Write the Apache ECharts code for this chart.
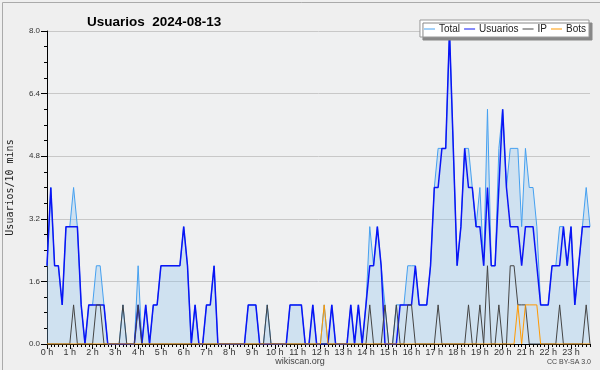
<!DOCTYPE html>
<html><head><meta charset="utf-8">
<script src="https://cdn.jsdelivr.net/npm/echarts@6/dist/echarts.min.js"></script>
<style>html,body{margin:0;padding:0;background:#efefef}#c{width:600px;height:370px}</style>
</head><body><div id="c"></div>
<script>
var hourLabels = ["0 h","1 h","2 h","3 h","4 h","5 h","6 h","7 h","8 h","9 h","10 h","11 h","12 h","13 h","14 h","15 h","16 h","17 h","18 h","19 h","20 h","21 h","22 h","23 h"];
var yTicks = [0, 1.6, 3.2, 4.8, 6.4, 8.0];
var total = [
2,4,2,2,1,3,3,4,3,1, 0,1,1,2,2,1,0,0,0,0, 1,0,0,0,2,0,1,0,1,1, 2,2,2,2,2,2,3,2,0,1,
0,0,1,1,2,0,0,0,0,0, 0,0,0,1,1,1,0,0,1,0, 0,0,0,0,1,1,1,1,0,0, 1,0,0,1,0,1,0,0,0,0,
1,0,1,0,1,3,2,3,2,1, 0,0,1,1,1,2,2,2,1,1, 1,2,4,5,5,5,8,5,2,3, 5,5,4,3,4,2,6,2,2,5,
6,4,5,5,5,3,5,4,4,3, 1,1,1,2,2,3,3,2,3,1, 2,3,4,3];
var usuarios = [
2,4,2,2,1,3,3,3,3,1, 0,1,1,1,1,1,0,0,0,0, 0,0,0,0,1,0,1,0,1,1, 2,2,2,2,2,2,3,2,0,1,
0,0,1,1,2,0,0,0,0,0, 0,0,0,1,1,1,0,0,0,0, 0,0,0,0,1,1,1,1,0,0, 1,0,0,0,0,1,0,0,0,0,
1,0,1,0,1,2,2,3,2,0, 0,0,0,1,1,1,1,2,1,1, 1,2,4,4,5,5,8,5,2,3, 5,4,4,3,3,2,4,2,2,4,
6,4,3,3,3,2,3,3,3,2, 1,1,1,2,2,2,3,2,3,1, 2,3,3,3];
var ip = [
0,0,0,0,0,0,0,1,0,0, 0,0,0,1,1,0,0,0,0,0, 1,0,0,0,1,0,0,0,0,0, 0,0,0,0,0,0,0,0,0,0,
0,0,0,0,0,0,0,0,0,0, 0,0,0,0,0,0,0,0,1,0, 0,0,0,0,0,0,0,0,0,0, 0,0,0,0,0,0,0,0,0,0,
0,0,0,0,0,1,0,0,0,1, 0,0,1,0,0,1,1,0,0,0, 0,0,0,1,0,0,0,0,0,0, 0,1,0,0,1,0,2,0,0,1,
0,0,2,2,1,1,1,0,0,0, 0,0,0,0,0,1,0,0,0,0, 0,0,1,0];
var bots = [
0,0,0,0,0,0,0,0,0,0, 0,0,0,0,0,0,0,0,0,0, 0,0,0,0,0,0,0,0,0,0, 0,0,0,0,0,0,0,0,0,0,
0,0,0,0,0,0,0,0,0,0, 0,0,0,0,0,0,0,0,0,0, 0,0,0,0,0,0,0,0,0,0, 0,0,0,1,0,0,0,0,0,0,
0,0,0,0,0,0,0,0,0,0, 0,0,0,0,0,0,0,0,0,0, 0,0,0,0,0,0,0,0,0,0, 0,0,0,0,0,0,0,0,0,0,
0,0,0,0,1,0,1,1,1,1, 0,0,0,0,0,0,0,0,0,0, 0,0,0,0];

var cats = total.map(function(_, i){ return String(i); });
var FONT = 'Liberation Sans';
var chart = echarts.init(document.getElementById('c'), null, {renderer:'canvas'});
chart.setOption({
  animation:false,
  backgroundColor:'#efefef',
  textStyle:{fontFamily:FONT},
  title:{text:'Usuarios  2024-08-13', left:82, top:10,
    textStyle:{fontSize:13.5, fontWeight:'bold', color:'#000', fontFamily:FONT}},
  legend:{right:11, top:20, itemWidth:11, itemHeight:1, itemGap:4, icon:'rect',
    padding:[4,3,3,4], backgroundColor:'#fff', borderColor:'#999', borderWidth:1,
    shadowColor:'#888', shadowOffsetX:3, shadowOffsetY:3, shadowBlur:0,
    textStyle:{fontSize:10, color:'#222', fontFamily:FONT, padding:[0,0,0,-1]},
    data:['Total','Usuarios','IP','Bots']},
  grid:{left:47, right:10, top:31, bottom:26, show:true, backgroundColor:'#eff0f1', borderWidth:0,
    containLabel:false, outerBoundsMode:'none'},
  xAxis:[{
    type:'category', data:cats, boundaryGap:false,
    axisLine:{lineStyle:{color:'#000', width:1}},
    axisTick:{show:true, interval:0, length:3, lineStyle:{color:'#000'}},
    axisLabel:{interval:5, fontSize:9, color:'#333', margin:4, fontFamily:FONT,
      formatter:function(v, i){ return i % 6 === 0 ? hourLabels[i/6] : ''; }},
    splitLine:{show:false}
  },{
    type:'category', data:cats, boundaryGap:false, position:'bottom',
    axisLine:{show:false},
    axisTick:{show:true, interval:5, length:5, lineStyle:{color:'#000'}},
    axisLabel:{show:false}, splitLine:{show:false}
  }],
  yAxis:{type:'value', min:yTicks[0], max:yTicks[yTicks.length-1], interval:1.6,
    name:'Usuarios/10 mins', nameLocation:'middle', nameGap:32, nameRotate:90,
    nameTextStyle:{fontFamily:'DejaVu Sans Mono', fontSize:10, color:'#222'},
    axisLine:{show:true, lineStyle:{color:'#000', width:1}},
    axisTick:{show:true, length:6, lineStyle:{color:'#000'}},
    minorTick:{show:true, splitNumber:4, length:3, lineStyle:{color:'#000'}},
    axisLabel:{fontSize:8, color:'#333', margin:7, fontFamily:FONT,
      formatter:function(v){ return v.toFixed(1); }},
    splitLine:{show:true, lineStyle:{color:'#c8c8c8', width:1}}
  },
  series:[
    {name:'Total', type:'line', data:total, showSymbol:false, symbol:'none',
      lineStyle:{color:'#45a0f0', width:1}, itemStyle:{color:'#45a0f0'},
      areaStyle:{color:'rgba(134,190,238,0.42)'}},
    {name:'Usuarios', type:'line', data:usuarios, showSymbol:false, symbol:'none',
      lineStyle:{color:'#0a14f5', width:1.5}, itemStyle:{color:'#0a14f5'}},
    {name:'IP', type:'line', data:ip, showSymbol:false, symbol:'none',
      lineStyle:{color:'#444', width:1}, itemStyle:{color:'#444'}},
    {name:'Bots', type:'line', data:bots, showSymbol:false, symbol:'none',
      lineStyle:{color:'#ff9900', width:1}, itemStyle:{color:'#ff9900'}}
  ],
  graphic:[
    {type:'rect', left:0, top:0, shape:{width:599, height:369}, style:{fill:null, stroke:'#aaa', lineWidth:1}, silent:true},
    {type:'text', left:'center', top:357, style:{text:'wikiscan.org', fontSize:9, fill:'#444', fontFamily:FONT}},
    {type:'text', right:9, top:359, style:{text:'CC BY-SA 3.0', fontSize:7, fill:'#444', fontFamily:FONT}}
  ]
});
</script></body></html>
